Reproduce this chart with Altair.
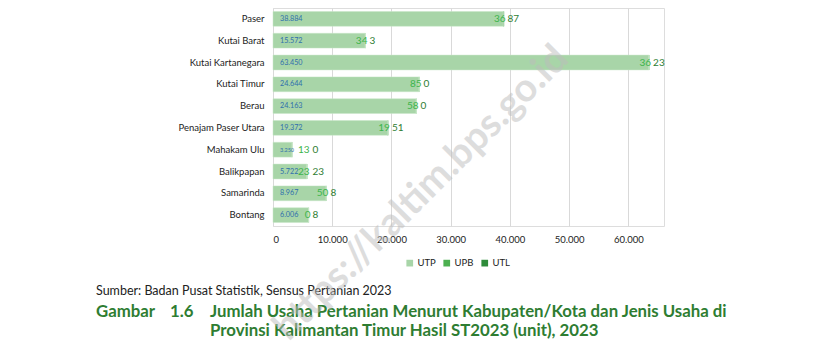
import altair as alt
import pandas as pd

categories = ["Paser", "Kutai Barat", "Kutai Kartanegara", "Kutai Timur", "Berau",
              "Penajam Paser Utara", "Mahakam Ulu", "Balikpapan", "Samarinda", "Bontang"]
utp = [38884, 15572, 63450, 24644, 24163, 19372, 3250, 5722, 8967, 6006]
upb = [36, 34, 36, 85, 58, 19, 13, 23, 50, 0]
utl = [87, 3, 23, 0, 0, 51, 0, 23, 8, 8]
series = ["UTP", "UPB", "UTL"]
colors = ["#a8d5a8", "#4cb050", "#2e8b3a"]
x_ticks = [0, 10000, 20000, 30000, 40000, 50000, 60000]

source_text = "Sumber: Badan Pusat Statistik, Sensus Pertanian 2023"
fig_word = "Gambar"
fig_num = "1.6"
title_lines = ["Jumlah Usaha Pertanian Menurut Kabupaten/Kota dan Jenis Usaha di",
               "Provinsi Kalimantan Timur Hasil ST2023 (unit), 2023"]
watermark = "https://kaltim.bps.go.id"

rows = []
for i, c in enumerate(categories):
    for k, (s, v) in enumerate(zip(series, [utp[i], upb[i], utl[i]])):
        rows.append({"kab": c, "jenis": s, "nilai": v, "ord": k})
long_df = pd.DataFrame(rows)

wide = pd.DataFrame({"kab": categories, "utp": utp, "upb": upb, "utl": utl})

FONT = "Lato"
y_enc = alt.Y("kab:N", sort=categories, title=None,
              scale=alt.Scale(paddingInner=0.32, paddingOuter=0.16),
              axis=alt.Axis(labelFontSize=9.5, labelColor="#222", labelFont=FONT,
                            ticks=False, domain=False, labelPadding=9, grid=False))
x_scale = alt.Scale(domain=[0, 66000], nice=False)

bars = alt.Chart(long_df).mark_bar(stroke="#c8e6c8", strokeWidth=0.5).encode(
    x=alt.X("nilai:Q", stack="zero", scale=x_scale, title=None,
            axis=alt.Axis(values=x_ticks, labelExpr="replace(format(datum.value, ','), ',', '.')",
                          labelFontSize=9.5, labelColor="#222", labelFont=FONT,
                          ticks=False, domain=False, gridColor="#d9d9d9",
                          labelPadding=8)),
    y=y_enc,
    color=alt.Color("jenis:N", sort=series, scale=alt.Scale(domain=series, range=colors),
                    legend=alt.Legend(title=None, orient="none", direction="horizontal",
                                      legendX=132, legendY=250, symbolType="square",
                                      symbolSize=45, symbolStrokeWidth=0, labelFontSize=9.5,
                                      labelFont=FONT, labelColor="#222", columnPadding=6,
                                      labelOffset=3)),
    order=alt.Order("ord:Q"),
)

base = alt.Chart(wide).transform_calculate(
    zero="0",
    end="datum.utp + datum.upb",
    lab="replace(format(datum.utp, ','), ',', '.')",
).transform_calculate(
    upb_x="max(datum.end, 5850)",
    utl_x="max(datum.end, 6000)",
)
utp_lbl = base.mark_text(align="left", dx=7, color="#2f6fad", font=FONT).encode(
    x=alt.X("zero:Q", scale=x_scale),
    y=alt.Y("kab:N", sort=categories),
    text="lab:N",
    size=alt.condition("datum.utp < 4000", alt.value(5.5), alt.value(7.2)),
)
upb_lbl = base.mark_text(align="right", dx=2, fontSize=10, color="#3cb44b", font=FONT).encode(
    x=alt.X("upb_x:Q", scale=x_scale),
    y=alt.Y("kab:N", sort=categories),
    text="upb:Q",
)
utl_lbl = base.mark_text(align="left", dx=4, fontSize=10, color="#2e7d32", font=FONT).encode(
    x=alt.X("utl_x:Q", scale=x_scale),
    y=alt.Y("kab:N", sort=categories),
    text="utl:Q",
)

ann = pd.DataFrame({"t": [0]})
src = alt.Chart(ann).mark_text(align="left", baseline="middle", fontSize=12.5,
                               font=FONT, color="#222").encode(
    x=alt.value(-177), y=alt.value(283), text=alt.value(source_text))
title_style = dict(align="left", baseline="middle", fontSize=16.8, font=FONT,
                   fontWeight="bold", color="#2e7d32")
fw = alt.Chart(ann).mark_text(**title_style).encode(
    x=alt.value(-177), y=alt.value(304), text=alt.value(fig_word))
fn = alt.Chart(ann).mark_text(**title_style).encode(
    x=alt.value(-103), y=alt.value(304), text=alt.value(fig_num))
t1 = alt.Chart(ann).mark_text(**title_style).encode(
    x=alt.value(-63), y=alt.value(304), text=alt.value(title_lines[0]))
t2 = alt.Chart(ann).mark_text(**title_style).encode(
    x=alt.value(-63), y=alt.value(323), text=alt.value(title_lines[1]))
wm = alt.Chart(ann).mark_text(align="center", baseline="middle", fontSize=39,
                              font=FONT, fontWeight="bold", color="#bdbdbd", opacity=0.5,
                              angle=315).encode(
    x=alt.value(148), y=alt.value(185), text=alt.value(watermark))

chart = alt.layer(bars, utp_lbl, upb_lbl, utl_lbl, src, fw, fn, t1, t2, wm).properties(
    width=391, height=218,
    autosize=alt.AutoSizeParams(type="none"),
    padding={"left": 265, "top": 0, "right": 162, "bottom": 123},
).configure_view(stroke=None).configure(background="white")

chart.save("out.html", embed_options={"renderer": "svg", "actions": False})
